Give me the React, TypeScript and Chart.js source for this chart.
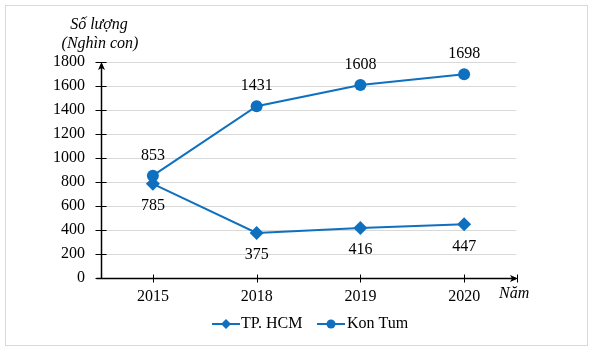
import React, { useEffect, useRef } from "react";
import { Chart, registerables } from "chart.js";

Chart.register(...registerables);

const years = ["2015", "2018", "2019", "2020"];
const hcm = [785, 375, 416, 447];
const konTum = [853, 1431, 1608, 1698];
const yTicks = [0, 200, 400, 600, 800, 1000, 1200, 1400, 1600, 1800];

const BLUE = "#0F70C0";
const FONT = "'Liberation Serif', 'Times New Roman', serif";

const decorPlugin = {
  id: "decor",
  beforeDraw(chart: any) {
    const ctx = chart.ctx;
    ctx.save();
    ctx.fillStyle = "#ffffff";
    ctx.fillRect(0, 0, chart.width, chart.height);
    ctx.strokeStyle = "#d9d9d9";
    ctx.lineWidth = 1;
    ctx.strokeRect(5.5, 5.5, 582, 340);
    ctx.restore();
  },
  afterDatasetsDraw(chart: any) {
    const ctx = chart.ctx;
    const area = chart.chartArea;
    const xs = chart.scales.x;
    const ys = chart.scales.y;
    ctx.save();
    ctx.strokeStyle = "#000";
    ctx.fillStyle = "#000";
    ctx.lineWidth = 1.5;
    const x0 = Math.round(area.left) + 0.5;
    const yb = Math.round(area.bottom) + 0.5;
    // y axis
    ctx.beginPath();
    ctx.moveTo(x0, yb);
    ctx.lineTo(x0, area.top + 2);
    ctx.stroke();
    ctx.beginPath();
    ctx.moveTo(x0, area.top);
    ctx.lineTo(x0 - 3.5, area.top + 8);
    ctx.lineTo(x0, area.top + 6);
    ctx.lineTo(x0 + 3.5, area.top + 8);
    ctx.closePath();
    ctx.fill();
    // x axis
    ctx.beginPath();
    ctx.moveTo(x0 - 5, yb);
    ctx.lineTo(area.right, yb);
    ctx.stroke();
    ctx.beginPath();
    ctx.moveTo(area.right + 2, yb);
    ctx.lineTo(area.right - 6, yb - 3.5);
    ctx.lineTo(area.right - 4, yb);
    ctx.lineTo(area.right - 6, yb + 3.5);
    ctx.closePath();
    ctx.fill();
    ctx.lineWidth = 1;
    ctx.beginPath();
    ctx.moveTo(area.right + 1.5, yb - 4);
    ctx.lineTo(area.right + 1.5, yb + 4);
    ctx.stroke();
    // y tick marks
    yTicks.forEach((v) => {
      const y = Math.round(ys.getPixelForValue(v)) + 0.5;
      ctx.beginPath();
      ctx.moveTo(x0 - 6, y);
      ctx.lineTo(x0 + 5, y);
      ctx.stroke();
    });
    // x tick marks
    years.forEach((_, i) => {
      const x = Math.round(xs.getPixelForValue(i)) + 0.5;
      ctx.beginPath();
      ctx.moveTo(x, yb - 4);
      ctx.lineTo(x, yb + 4);
      ctx.stroke();
    });

    // data labels
    ctx.font = `16px ${FONT}`;
    ctx.textAlign = "center";
    ctx.textBaseline = "middle";
    ctx.fillStyle = "#000";
    konTum.forEach((v, i) => {
      ctx.fillText(String(v), xs.getPixelForValue(i), ys.getPixelForValue(v) - 20);
    });
    hcm.forEach((v, i) => {
      ctx.fillText(String(v), xs.getPixelForValue(i), ys.getPixelForValue(v) + 22);
    });

    // axis titles
    ctx.font = `italic 16px ${FONT}`;
    ctx.fillText("Số lượng", 99, 25);
    ctx.fillText("(Nghìn con)", 100, 44);
    ctx.textAlign = "left";
    ctx.fillText("Năm", 499, 294);

    // legend
    const ly = 324;
    ctx.strokeStyle = BLUE;
    ctx.fillStyle = BLUE;
    ctx.lineWidth = 2;
    ctx.beginPath();
    ctx.moveTo(212, ly);
    ctx.lineTo(240, ly);
    ctx.stroke();
    ctx.beginPath();
    ctx.moveTo(226, ly - 5);
    ctx.lineTo(231, ly);
    ctx.lineTo(226, ly + 5);
    ctx.lineTo(221, ly);
    ctx.closePath();
    ctx.fill();
    ctx.beginPath();
    ctx.moveTo(317, ly);
    ctx.lineTo(345, ly);
    ctx.stroke();
    ctx.beginPath();
    ctx.arc(331, ly, 4.5, 0, Math.PI * 2);
    ctx.fill();
    ctx.fillStyle = "#000";
    ctx.font = `16px ${FONT}`;
    ctx.fillText("TP. HCM", 241, ly);
    ctx.fillText("Kon Tum", 347, ly);
    ctx.restore();
  },
};

export default function App() {
  const ref = useRef<HTMLCanvasElement | null>(null);
  useEffect(() => {
    document.body.style.margin = "0";
    const chart = new Chart(ref.current as HTMLCanvasElement, {
      type: "line",
      data: {
        labels: years,
        datasets: [
          {
            label: "TP. HCM",
            data: hcm,
            borderColor: BLUE,
            backgroundColor: BLUE,
            borderWidth: 2,
            pointStyle: "rectRot",
            pointRadius: 7,
            pointBorderWidth: 0,
            tension: 0,
          },
          {
            label: "Kon Tum",
            data: konTum,
            borderColor: BLUE,
            backgroundColor: BLUE,
            borderWidth: 2,
            pointStyle: "circle",
            pointRadius: 6,
            pointBorderWidth: 0,
            tension: 0,
          },
        ],
      },
      options: {
        responsive: false,
        animation: false,
        events: [],
        layout: { padding: { left: 0, top: 62, right: 91, bottom: 0 } },
        plugins: {
          legend: { display: false },
          tooltip: { enabled: false },
        },
        scales: {
          x: {
            offset: true,
            grid: { display: false, drawTicks: false },
            border: { display: false },
            ticks: { color: "#000", font: { family: FONT, size: 16 }, padding: 9 },
            afterFit: (s: any) => {
              s.height = 76;
            },
          },
          y: {
            min: 0,
            max: 1800,
            grid: { color: "#d9d9d9", drawTicks: false, lineWidth: 1 },
            border: { display: false },
            ticks: {
              stepSize: 200,
              color: "#000",
              font: { family: FONT, size: 16 },
              padding: 16,
              callback: (v: any) => String(v),
            },
            afterFit: (s: any) => {
              s.width = 101;
            },
          },
        },
      },
      plugins: [decorPlugin],
    });
    return () => chart.destroy();
  }, []);
  return (
    <div style={{ position: "absolute", left: 0, top: 0, width: 607, height: 354 }}>
      <canvas ref={ref} width={607} height={354} />
    </div>
  );
}
